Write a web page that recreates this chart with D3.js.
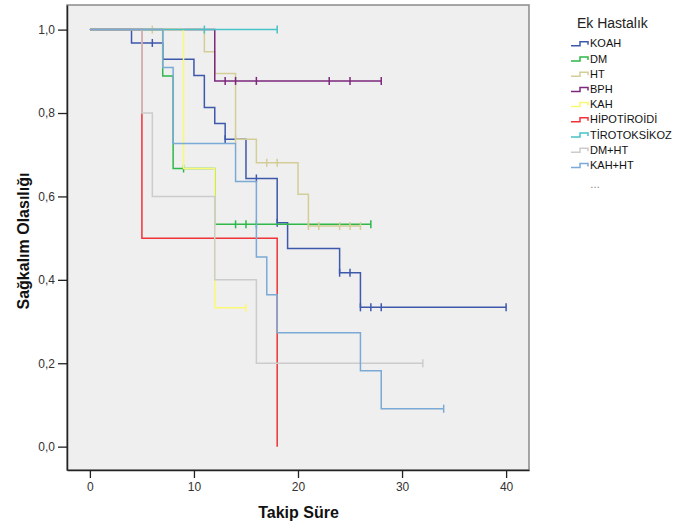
<!DOCTYPE html>
<html>
<head>
<meta charset="utf-8">
<script src="https://cdn.jsdelivr.net/npm/d3@7"></script>
<style>
  body { margin: 0; background: #fff; }
  text { font-family: "Liberation Sans", Arial, sans-serif; }
</style>
</head>
<body>
<script>
// Ek hastalik gruplari (legend order = draw order)
var groups = ["KOAH", "DM", "HT", "BPH", "KAH", "HİPOTİROİDİ", "TİROTOKSİKOZ", "DM+HT", "KAH+HT"];
var colors = ["#3E58AC", "#2EB848", "#D3CE97", "#7C287D", "#FBF873", "#EF3338", "#48C2C5", "#CCCCCC", "#7AAAD5"];

// olay zamanlari (ay) ve o andan sonraki sagkalim
var eventTimes = [
  [4, 7, 10, 11, 12, 13, 15, 18, 19, 24, 26],
  [7, 8, 12],
  [11, 12, 14, 16, 20, 21],
  [12],
  [9, 12],
  [5, 18],
  [],
  [5, 6, 12, 16],
  [7, 8, 14, 16, 17, 18, 26, 28]
];
var survival = [
  [0.968, 0.929, 0.890, 0.813, 0.775, 0.737, 0.643, 0.537, 0.475, 0.417, 0.334],
  [0.889, 0.667, 0.533],
  [0.947, 0.895, 0.737, 0.681, 0.605, 0.529],
  [0.877],
  [0.667, 0.333],
  [0.5, 0],
  [],
  [0.8, 0.6, 0.4, 0.2],
  [0.909, 0.727, 0.636, 0.455, 0.364, 0.273, 0.182, 0.091]
];
// sansurlu gozlemler
var censorTimes = [
  [6, 13, 16, 18, 24, 25, 26, 27, 28, 40],
  [9, 14, 15, 16, 27],
  [6, 14, 17, 18, 21, 22, 24, 25, 26],
  [13, 14, 16, 23, 25, 28],
  [15],
  [],
  [11, 18],
  [32],
  [34]
];

var xTicks = [0, 10, 20, 30, 40];
var yTicks = [0, 0.2, 0.4, 0.6, 0.8, 1.0];

var width = 688, height = 527;
var plotLeft = 67, plotRight = 529, plotTop = 5, plotBottom = 470;

var svg = d3.select("body").append("svg")
  .attr("width", width)
  .attr("height", height);

var x = d3.scaleLinear().domain([-2.2, 42.2]).range([plotLeft, plotRight]);
var y = d3.scaleLinear().domain([-0.056, 1.059]).range([plotBottom, plotTop]);

// plot alani
svg.append("rect")
  .attr("x", plotLeft).attr("y", plotTop)
  .attr("width", plotRight - plotLeft).attr("height", plotBottom - plotTop)
  .attr("fill", "#efefef")
  .attr("stroke", "#8a8a8a")
  .attr("stroke-width", 1.5);

// survival value at time t (for censor marks)
function survAt(i, t) {
  var s = 1;
  for (var k = 0; k < eventTimes[i].length; k++) {
    if (eventTimes[i][k] <= t) s = survival[i][k];
  }
  return s;
}

groups.forEach(function(g, i) {
  var times = eventTimes[i];
  var last = d3.max(times.concat(censorTimes[i])) || 0;
  var p = d3.path();
  p.moveTo(x(0), y(1));
  var prev = 1;
  times.forEach(function(t, k) {
    p.lineTo(x(t), y(prev));
    p.lineTo(x(t), y(survival[i][k]));
    prev = survival[i][k];
  });
  p.lineTo(x(last), y(prev));

  svg.append("path")
    .attr("d", p.toString())
    .attr("fill", "none")
    .attr("stroke", colors[i])
    .attr("stroke-width", 1.5);

  svg.selectAll(null)
    .data(censorTimes[i])
    .enter()
    .append("line")
    .attr("x1", function(d) { return x(d); })
    .attr("x2", function(d) { return x(d); })
    .attr("y1", function(d) { return y(survAt(i, d)) - 4; })
    .attr("y2", function(d) { return y(survAt(i, d)) + 4; })
    .attr("stroke", colors[i])
    .attr("stroke-width", 1.5);
});

// eksenler
var yAxis = d3.axisLeft(y)
  .tickValues(yTicks)
  .tickSizeInner(9)
  .tickSizeOuter(0)
  .tickPadding(3)
  .tickFormat(function(d) { return d.toFixed(1).replace(".", ","); });

var xAxis = d3.axisBottom(x)
  .tickValues(xTicks)
  .tickSizeInner(8)
  .tickSizeOuter(0)
  .tickPadding(4)
  .tickFormat(d3.format("d"));

var gy = svg.append("g")
  .attr("transform", "translate(" + plotLeft + ",0)")
  .call(yAxis);
var gx = svg.append("g")
  .attr("transform", "translate(0," + plotBottom + ")")
  .call(xAxis);

[gx, gy].forEach(function(g) {
  g.select(".domain").attr("stroke", "#222").attr("stroke-width", 1.5);
  g.selectAll(".tick line").attr("stroke", "#222").attr("stroke-width", 1.3);
  g.selectAll(".tick text")
    .attr("font-size", 12)
    .attr("font-family", "Liberation Sans, Arial, sans-serif")
    .attr("fill", "#333");
});

svg.append("text")
  .attr("x", (plotLeft + plotRight) / 2 + 0.5)
  .attr("y", 518)
  .attr("text-anchor", "middle")
  .attr("font-size", 16)
  .attr("font-weight", "bold")
  .attr("fill", "#111")
  .text("Takip Süre");

svg.append("text")
  .attr("transform", "translate(29," + 241 + ") rotate(-90)")
  .attr("text-anchor", "middle")
  .attr("font-size", 16)
  .attr("font-weight", "bold")
  .attr("fill", "#111")
  .text("Sağkalım Olasılığı");

// legend
svg.append("text")
  .attr("x", 577)
  .attr("y", 28)
  .attr("font-size", 14)
  .attr("fill", "#222")
  .text("Ek Hastalık");

var legend = svg.selectAll(".leg")
  .data(groups)
  .enter()
  .append("g")
  .attr("class", "leg")
  .attr("transform", function(d, i) { return "translate(571," + (47.3 + i * 15.2) + ")"; });

legend.append("path")
  .attr("d", "M0,-1.5H9V-5.5H17V-2.5")
  .attr("fill", "none")
  .attr("stroke", function(d, i) { return colors[i]; })
  .attr("stroke-width", 1.5);

legend.append("text")
  .attr("x", 19)
  .attr("y", 0)
  .attr("font-size", 11)
  .attr("fill", "#111")
  .text(function(d) { return d; });

svg.append("text")
  .attr("x", 590)
  .attr("y", 188)
  .attr("font-size", 10)
  .attr("fill", "#777")
  .text("…");
</script>
</body>
</html>
